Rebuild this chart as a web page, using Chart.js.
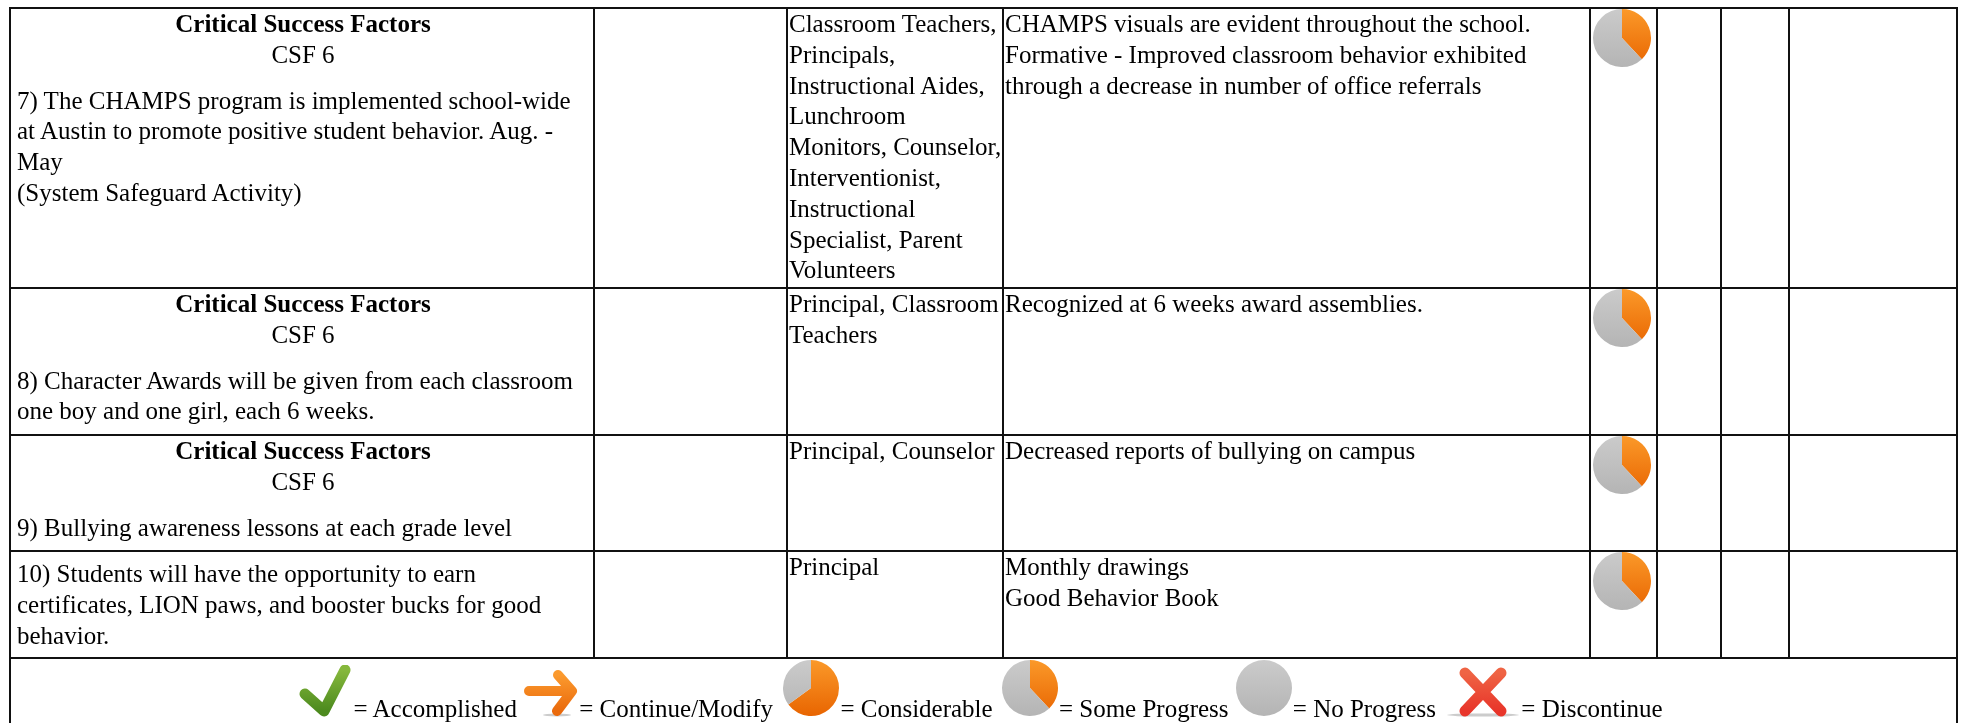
<!DOCTYPE html>
<html>
<head>
<meta charset="utf-8">
<script src="https://cdn.jsdelivr.net/npm/chart.js@4"></script>
<style>
html, body { margin: 0; padding: 0; background: #fff; overflow: hidden; height: 723px; }
table { position: absolute; left: 9px; top: 7px; border-collapse: collapse; table-layout: fixed; width: 1947px;
  font-family: "Liberation Serif", serif; font-size: 25px; line-height: 30.8px; color: #000; filter: blur(.35px); }
td { border: 2px solid #111; vertical-align: top; padding: 0 0 0 1px; overflow: hidden; white-space: normal; }
td.goal { padding-left: 6px; padding-right: 4px; }
td.goal .head { text-align: center; margin-bottom: 15px; }
td.goal.plain { padding-top: 7px; }
td.pie { padding: 0; text-align: center; }
td.pie canvas { display: inline-block !important; margin-top: -1px; position: relative; left: -2px; }
td.legend { text-align: center; white-space: nowrap; height: 70px; padding: 0 7px 0 0; }
td.legend canvas, td.legend svg { display: inline-block !important; vertical-align: baseline; }
</style>
</head>
<body>
<table id="tbl">
  <colgroup>
    <col style="width:584px"><col style="width:193px"><col style="width:216px"><col style="width:587px">
    <col style="width:67px"><col style="width:64px"><col style="width:68px"><col style="width:168px">
  </colgroup>
  <tbody id="rows"></tbody>
</table>
<script>
// table text
var headTitle = "Critical Success Factors";
var headCode = "CSF 6";
var goals = [
  "7) The CHAMPS program is implemented school-wide at Austin to promote positive student behavior. Aug. - May<br>(System Safeguard Activity)",
  "8) Character Awards will be given from each classroom one boy and one girl, each 6 weeks.",
  "9) Bullying awareness lessons at each grade level",
  "10) Students will have the opportunity to earn certificates, LION paws, and booster bucks for good behavior."
];
var hasHead = [true, true, true, false];
var staff = [
  "Classroom Teachers, Principals, Instructional Aides, Lunchroom Monitors, Counselor, Interventionist, Instructional Specialist, Parent Volunteers",
  "Principal, Classroom Teachers",
  "Principal, Counselor",
  "Principal"
];
var evidence = [
  "CHAMPS visuals are evident throughout the school.<br>Formative - Improved classroom behavior exhibited through a decrease in number of office referrals",
  "Recognized at 6 weeks award assemblies.",
  "Decreased reports of bullying on campus",
  "Monthly drawings<br>Good Behavior Book"
];
var rowHeights = [280, 147, 116, 107];

// pie values: orange share, grey share
var pieLabels = ["Done", "Remaining"];
var rowPie = [38, 62];
var considerablePie = [65, 35];
var somePie = [38, 62];
var nonePie = [0, 100];

var legendText = ["= Accomplished", "= Continue/Modify", "= Considerable", "= Some Progress", "= No Progress", "= Discontinue"];

var rowsHtml = "";
for (var i = 0; i < goals.length; i++) {
  var head = hasHead[i] ? '<div class="head"><b>' + headTitle + '</b><br>' + headCode + '</div>' : '';
  rowsHtml += '<tr style="height:' + rowHeights[i] + 'px">' +
    '<td class="goal' + (hasHead[i] ? '' : ' plain') + '">' + head + goals[i] + '</td>' +
    '<td></td><td>' + staff[i] + '</td><td>' + evidence[i] + '</td>' +
    '<td class="pie"><canvas id="rowPie' + i + '" width="60" height="60"></canvas></td>' +
    '<td></td><td></td><td></td></tr>';
}
var check = '<svg style="margin-right:2px" width="54" height="52" viewBox="0 0 54 52"><defs><linearGradient id="g" x1="0" y1="0" x2="0" y2="1"><stop offset="0" stop-color="#86b83c"/><stop offset="1" stop-color="#4c8a1e"/></linearGradient></defs>' +
  '<path d="M7 29 L26 46 L47 5" fill="none" stroke="url(#g)" stroke-width="11" stroke-linecap="round" stroke-linejoin="round"/></svg>';
var arrow = '<svg style="margin-left:1px" width="55" height="48" viewBox="0 0 55 48"><defs><linearGradient id="o" x1="0" y1="0" x2="0" y2="1"><stop offset="0" stop-color="#fb9a2e"/><stop offset="1" stop-color="#ea6a0c"/></linearGradient></defs>' +
  '<ellipse cx="33" cy="46" rx="14" ry="1.5" fill="#ccc"/><path d="M5 22 H46 M34 6 L48 22 L33 42" fill="none" stroke="url(#o)" stroke-width="10" stroke-linecap="round" stroke-linejoin="round"/></svg>';
var cross = '<svg style="margin-left:3px" width="76" height="50" viewBox="0 0 76 50"><defs><linearGradient id="r" x1="0" y1="0" x2="0" y2="1"><stop offset="0" stop-color="#ef6444"/><stop offset="1" stop-color="#e8352a"/></linearGradient></defs>' +
  '<ellipse cx="38" cy="48" rx="36" ry="1.6" fill="#ccc"/><path d="M20 6 L56 44 M56 6 L20 44" fill="none" stroke="url(#r)" stroke-width="11" stroke-linecap="round"/></svg>';
rowsHtml += '<tr><td class="legend" colspan="8">' +
  check + legendText[0] + ' ' + arrow + legendText[1] + ' ' +
  '<canvas style="margin-left:3px" id="pieConsiderable" width="58" height="58"></canvas>' + legendText[2] + ' ' +
  '<canvas style="margin-left:2px" id="pieSome" width="58" height="58"></canvas>' + legendText[3] + ' ' +
  '<canvas id="pieNone" width="58" height="58"></canvas>' + legendText[4] + ' ' +
  cross + legendText[5] + '</td></tr>';
document.getElementById("rows").innerHTML = rowsHtml;

function vGrad(ctx, top, bottom) {
  var c = ctx.chart;
  var g = c.ctx.createLinearGradient(0, 0, 0, c.height);
  g.addColorStop(0, top);
  g.addColorStop(1, bottom);
  return g;
}

function makePie(id, values) {
  new Chart(document.getElementById(id), {
    type: 'pie',
    data: {
      labels: pieLabels,
      datasets: [{
        data: values,
        borderWidth: 0,
        backgroundColor: function (ctx) {
          return ctx.dataIndex === 0 ? vGrad(ctx, "#fb9a2a", "#e86400") : vGrad(ctx, "#cbcbcb", "#b4b4b4");
        }
      }]
    },
    options: {
      responsive: false,
      animation: false,
      layout: { padding: 1 },
      plugins: { legend: { display: false }, tooltip: { enabled: false } }
    }
  });
}

for (var r = 0; r < goals.length; r++) makePie("rowPie" + r, rowPie);
makePie("pieConsiderable", considerablePie);
makePie("pieSome", somePie);
makePie("pieNone", nonePie);
</script>
</body>
</html>
